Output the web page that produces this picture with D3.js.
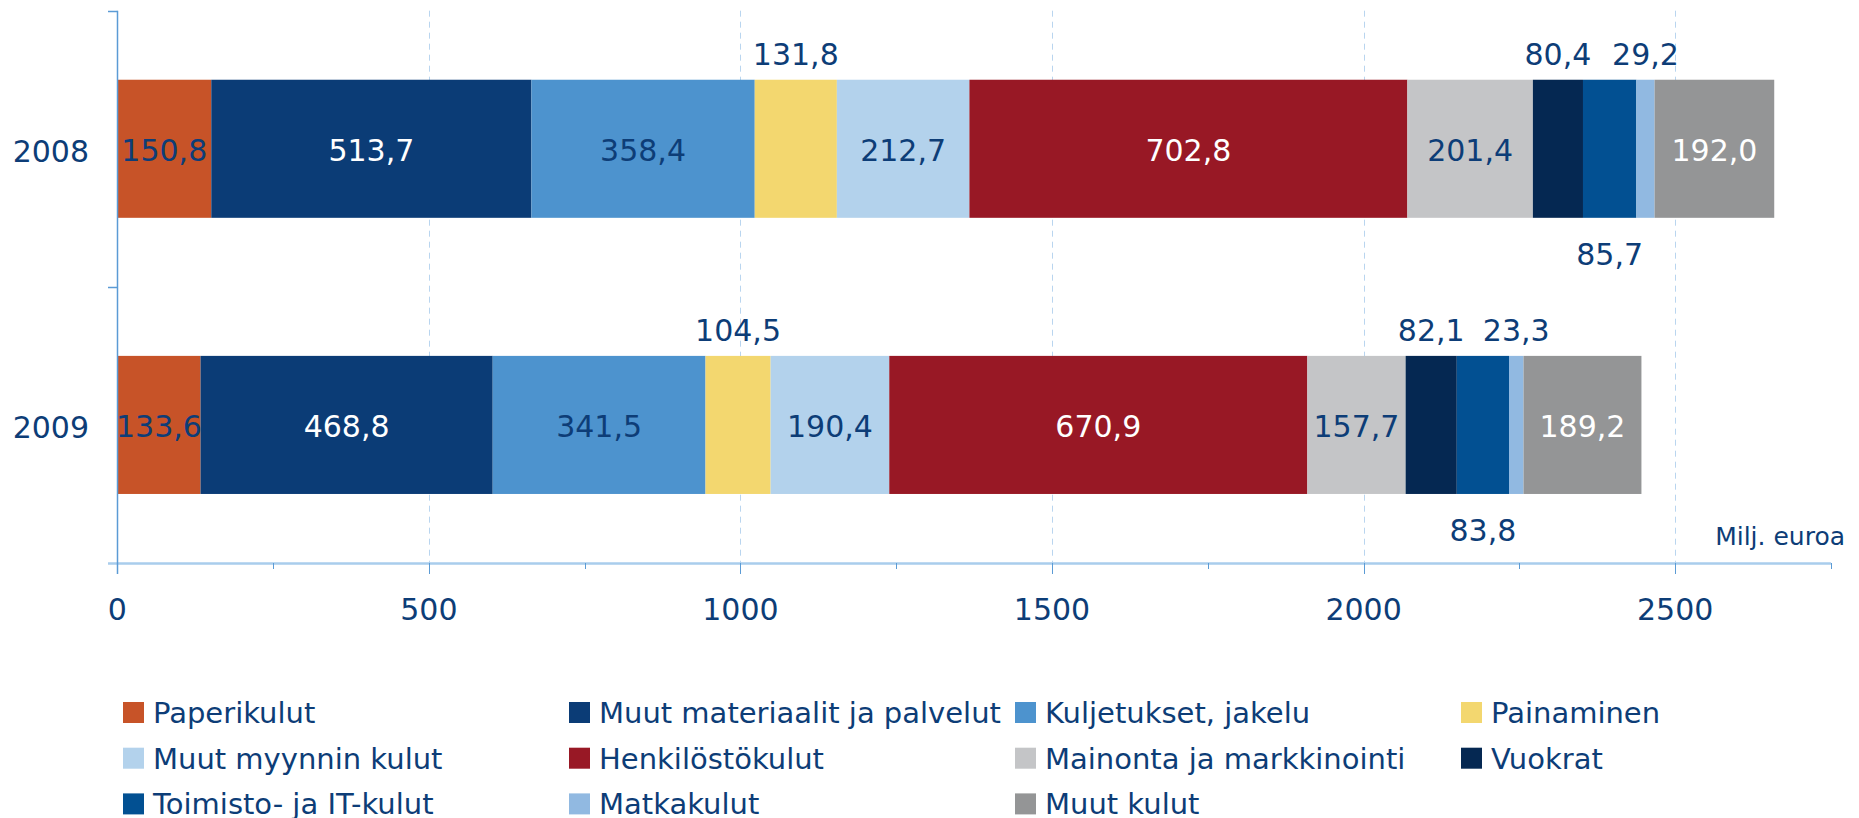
<!DOCTYPE html>
<html>
<head>
<meta charset="utf-8">
<script src="https://cdn.jsdelivr.net/npm/d3@7"></script>
<style>
  body { margin: 0; background: #fff; }
  svg text { font-family: "DejaVu Sans", Verdana, sans-serif; fill: #0d3d77; }
</style>
</head>
<body>
<svg id="chart"></svg>
<script>
// data
var years = ["2008", "2009"];
var seriesNames = ["Paperikulut", "Muut materiaalit ja palvelut", "Kuljetukset, jakelu", "Painaminen",
  "Muut myynnin kulut", "Henkilöstökulut", "Mainonta ja markkinointi", "Vuokrat",
  "Toimisto- ja IT-kulut", "Matkakulut", "Muut kulut"];
var values2008 = [150.8, 513.7, 358.4, 131.8, 212.7, 702.8, 201.4, 80.4, 85.7, 29.2, 192.0];
var values2009 = [133.6, 468.8, 341.5, 104.5, 190.4, 670.9, 157.7, 82.1, 83.8, 23.3, 189.2];
var xTicks = [0, 500, 1000, 1500, 2000, 2500];
var unitLabel = "Milj. euroa";

// styles
var colors = ["#c75328", "#0b3c76", "#4d93ce", "#f3d76f", "#b3d2ec", "#981825",
  "#c4c5c7", "#052852", "#025092", "#91b9e1", "#949596"];
var labelPos = ["in", "in", "in", "above", "in", "in", "in", "above", "below", "above", "in"];
var labelWhite = [false, true, false, false, false, true, false, false, false, false, true];
var textColor = "#0d3d77";

var W = 1859, H = 818;
var svg = d3.select("#chart").attr("width", W).attr("height", H);

var x = d3.scaleLinear().domain([0, 2750]).range([117.3, 1831]);
var y = d3.scaleBand().domain(years).range([10.7, 563]).paddingInner(0.5).paddingOuter(0.25);
var axisTop = 10.7, axisBottom = 563;

var fmt = function (v) { return d3.format(".1f")(v).replace(".", ","); };

// gridlines
svg.append("g").selectAll("line")
  .data(xTicks.slice(1))
  .enter().append("line")
  .attr("x1", function (d) { return Math.round(x(d)) + 0.5; })
  .attr("x2", function (d) { return Math.round(x(d)) + 0.5; })
  .attr("y1", axisTop).attr("y2", axisBottom)
  .style("stroke", "#b9d5ef").style("stroke-width", 1)
  .style("stroke-dasharray", "6,5");

// stacked bars
var rows = [values2008, values2009];
var stackData = years.map(function (yr, i) {
  var o = { year: yr };
  seriesNames.forEach(function (s, j) { o[s] = rows[i][j]; });
  return o;
});
var stack = d3.stack().keys(seriesNames)(stackData);

var layers = svg.append("g").selectAll("g")
  .data(stack)
  .enter().append("g")
  .style("fill", function (d, i) { return colors[i]; });

layers.selectAll("rect")
  .data(function (d) { return d; })
  .enter().append("rect")
  .attr("x", function (d) { return x(d[0]); })
  .attr("width", function (d) { return x(d[1]) - x(d[0]); })
  .attr("y", function (d) { return y(d.data.year); })
  .attr("height", y.bandwidth());

// value labels
var lab = svg.append("g").style("font-size", "30px").attr("text-anchor", "middle");
stack.forEach(function (layer, i) {
  layer.forEach(function (d) {
    var cx = (x(d[0]) + x(d[1])) / 2;
    var top = y(d.data.year), bot = top + y.bandwidth();
    var ty;
    if (labelPos[i] == "above") ty = top - 15;
    else if (labelPos[i] == "below") ty = bot + 47;
    else ty = top + y.bandwidth() / 2 + 12;
    lab.append("text")
      .attr("x", cx).attr("y", ty)
      .style("fill", labelWhite[i] ? "#fff" : textColor)
      .text(fmt(d[1] - d[0]));
  });
});

// x axis
var xAxisG = svg.append("g");
xAxisG.append("line")
  .attr("x1", 108).attr("x2", x(2750))
  .attr("y1", axisBottom + 0.5).attr("y2", axisBottom + 0.5)
  .style("stroke", "#a9cdec").style("stroke-width", 2.5);
var allTicks = d3.range(0, 2751, 250);
xAxisG.selectAll("line.tick")
  .data(allTicks)
  .enter().append("line")
  .attr("class", "tick")
  .attr("x1", function (d) { return Math.round(x(d)) + 0.5; })
  .attr("x2", function (d) { return Math.round(x(d)) + 0.5; })
  .attr("y1", axisBottom)
  .attr("y2", function (d) { return d % 500 == 0 ? axisBottom + 11 : axisBottom + 6; })
  .style("stroke", "#5b9bd5").style("stroke-width", 1);
xAxisG.selectAll("text")
  .data(xTicks)
  .enter().append("text")
  .attr("x", function (d) { return x(d); })
  .attr("y", 620)
  .attr("text-anchor", "middle")
  .style("font-size", "30px")
  .text(function (d) { return d; });

// y axis
var yAxisG = svg.append("g");
yAxisG.append("line")
  .attr("x1", 117.5).attr("x2", 117.5)
  .attr("y1", axisTop).attr("y2", axisBottom + 11)
  .style("stroke", "#5b9bd5").style("stroke-width", 1.5);
var bounds = [axisTop, y("2009") - y.step() * 0.25];
yAxisG.selectAll("line.tick")
  .data(bounds)
  .enter().append("line")
  .attr("class", "tick")
  .attr("x1", 108).attr("x2", 117.5)
  .attr("y1", function (d) { return Math.round(d) + 0.5; })
  .attr("y2", function (d) { return Math.round(d) + 0.5; })
  .style("stroke", "#5b9bd5").style("stroke-width", 1.5);
yAxisG.selectAll("text")
  .data(years)
  .enter().append("text")
  .attr("x", 89)
  .attr("y", function (d) { return y(d) + y.bandwidth() / 2 + 13; })
  .attr("text-anchor", "end")
  .style("font-size", "30px")
  .text(function (d) { return d; });

svg.append("text")
  .attr("x", 1845).attr("y", 545)
  .attr("text-anchor", "end")
  .style("font-size", "25px")
  .text(unitLabel);

// legend
var legend = svg.append("g").style("font-size", "29px");
seriesNames.forEach(function (s, i) {
  var col = i % 4, row = Math.floor(i / 4);
  var lx = 123 + col * 446, ly = 723 + row * 45.7;
  legend.append("rect")
    .attr("x", lx).attr("y", ly - 21)
    .attr("width", 21).attr("height", 21)
    .style("fill", colors[i]);
  legend.append("text")
    .attr("x", lx + 30).attr("y", ly)
    .text(s);
});
</script>
</body>
</html>
